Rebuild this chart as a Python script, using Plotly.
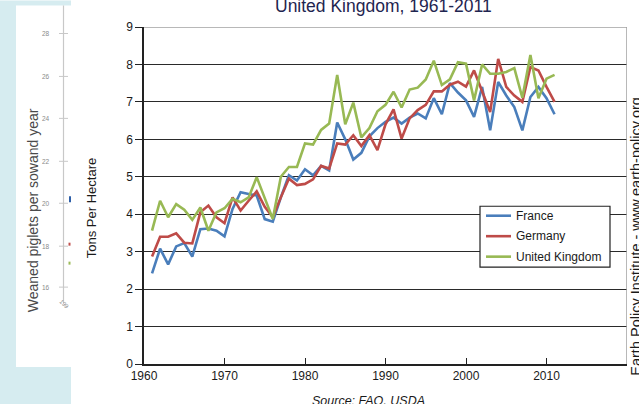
import plotly.graph_objects as go

years = [1961, 1962, 1963, 1964, 1965, 1966, 1967, 1968, 1969, 1970,
         1971, 1972, 1973, 1974, 1975, 1976, 1977, 1978, 1979, 1980,
         1981, 1982, 1983, 1984, 1985, 1986, 1987, 1988, 1989, 1990,
         1991, 1992, 1993, 1994, 1995, 1996, 1997, 1998, 1999, 2000,
         2001, 2002, 2003, 2004, 2005, 2006, 2007, 2008, 2009, 2010, 2011]

france = [2.42, 3.08, 2.66, 3.14, 3.23, 2.87, 3.60, 3.62, 3.56, 3.41,
          4.14, 4.59, 4.54, 4.50, 3.87, 3.80, 4.45, 5.04, 4.90, 5.20,
          5.04, 5.29, 5.17, 6.45, 6.00, 5.46, 5.64, 6.08, 6.30, 6.47,
          6.58, 6.42, 6.58, 6.69, 6.56, 7.10, 6.67, 7.50, 7.25, 7.04,
          6.60, 7.40, 6.24, 7.53, 7.17, 6.86, 6.24, 7.13, 7.40, 7.10, 6.67]

germany = [2.87, 3.40, 3.40, 3.49, 3.24, 3.22, 4.05, 4.23, 3.92, 3.76,
           4.45, 4.10, 4.36, 4.61, 4.20, 3.92, 4.45, 4.95, 4.78, 4.81,
           4.93, 5.29, 5.22, 5.89, 5.86, 6.11, 5.82, 6.11, 5.71, 6.40,
           6.80, 6.02, 6.56, 6.78, 6.92, 7.28, 7.28, 7.46, 7.54, 7.41,
           7.84, 7.31, 6.73, 8.15, 7.40, 7.17, 7.00, 7.93, 7.84, 7.40, 7.00]

uk = [3.56, 4.36, 3.92, 4.27, 4.12, 3.85, 4.18, 3.56, 4.05, 4.16,
      4.41, 4.32, 4.45, 4.99, 4.43, 3.87, 5.00, 5.26, 5.26, 5.89,
      5.86, 6.25, 6.42, 7.72, 6.40, 6.98, 6.05, 6.30, 6.75, 6.92,
      7.27, 6.85, 7.33, 7.38, 7.60, 8.10, 7.45, 7.60, 8.06, 8.02,
      7.04, 8.00, 7.75, 7.75, 7.80, 7.90, 7.11, 8.25, 7.10, 7.62, 7.72]

series_names = ["France", "Germany", "United Kingdom"]
series_colors = ["#4a7ebb", "#be4b48", "#98b954"]

x_ticks = [1960, 1970, 1980, 1990, 2000, 2010, 2020]
y_ticks = [0, 1, 2, 3, 4, 5, 6, 7, 8, 9]

left_ticks = ["28", "26", "24", "22", "20", "18", "16"]

W, H = 639, 404
L, R, T, B = 144, 12, 26.5, 40
PW = W - L - R
PH = H - T - B


def px(p):
    return (p - L) / PW


def py(p):
    return (H - B - p) / PH


FONT = "Liberation Sans"

fig = go.Figure()
for name, vals, col in zip(series_names, [france, germany, uk], series_colors):
    fig.add_trace(go.Scatter(x=years, y=vals, mode="lines", name=name,
                             line=dict(color=col, width=2.6), showlegend=False))

shapes = []
# left background (remnant of another chart)
shapes.append(dict(type="rect", xref="paper", yref="paper", x0=px(0), x1=px(71),
                   y0=py(404), y1=py(0), fillcolor="#d6ecf0", line=dict(width=0), layer="below"))
shapes.append(dict(type="rect", xref="paper", yref="paper", x0=px(16), x1=px(71),
                   y0=py(367), y1=py(5), fillcolor="white", line=dict(width=0), layer="below"))
shapes.append(dict(type="line", xref="paper", yref="paper", x0=px(63.5), x1=px(63.5),
                   y0=py(303), y1=py(5), line=dict(color="#c8c8c8", width=1.2)))
left_tick_y = [33, 76, 118, 161, 203, 246, 287]
for ty in left_tick_y:
    shapes.append(dict(type="line", xref="paper", yref="paper", x0=px(59), x1=px(68),
                       y0=py(ty), y1=py(ty), line=dict(color="#c8c8c8", width=1)))
# small coloured marks of the left chart
for (mx, my, mh, mc) in [(70, 199, 6, "#2e5fa8"), (69.5, 244, 3, "#c0504d"), (69.5, 263, 3, "#9bbb59")]:
    shapes.append(dict(type="rect", xref="paper", yref="paper", x0=px(mx - 1), x1=px(mx + 1),
                       y0=py(my + mh / 2), y1=py(my - mh / 2), fillcolor=mc, line=dict(width=0)))
# top border (gray) and right border (gray)
shapes.append(dict(type="line", xref="paper", yref="y", x0=0, x1=1, y0=9, y1=9,
                   line=dict(color="#a0a0a0", width=1.5), layer="above"))
shapes.append(dict(type="line", xref="x", yref="paper", x0=2020, x1=2020, y0=0, y1=1,
                   line=dict(color="#a0a0a0", width=1.5), layer="above"))

annotations = []

# legend box (drawn by hand to match the reference's compact box)
shapes.append(dict(type="rect", xref="paper", yref="paper", x0=px(480), x1=px(610),
                   y0=py(267), y1=py(206), fillcolor="white",
                   line=dict(color="#222222", width=1.2), layer="above"))
legend_y = [215.5, 236, 256.5]
for name, col, ly in zip(series_names, series_colors, legend_y):
    shapes.append(dict(type="line", xref="paper", yref="paper", x0=px(486), x1=px(511),
                       y0=py(ly), y1=py(ly), line=dict(color=col, width=2.6), layer="above"))
    annotations.append(dict(text=name, xref="paper", yref="paper", x=px(513.5), y=py(ly),
                            xanchor="left", yanchor="middle", showarrow=False,
                            font=dict(family=FONT, size=12, color="#1a1a1a")))

for lbl, ty in zip(left_ticks, left_tick_y):
    annotations.append(dict(text=lbl, xref="paper", yref="paper", x=px(52), y=py(ty),
                            xanchor="right", yanchor="middle", showarrow=False,
                            font=dict(family=FONT, size=6.5, color="#8a8a8a")))
annotations.append(dict(text="199", xref="paper", yref="paper", x=px(64), y=py(304),
                        xanchor="center", yanchor="middle", showarrow=False, textangle=45,
                        font=dict(family=FONT, size=6, color="#8a8a8a")))
annotations.append(dict(text="Weaned piglets per sowand year", xref="paper", yref="paper",
                        x=px(33), y=py(210), xanchor="center", yanchor="middle",
                        showarrow=False, textangle=-90,
                        font=dict(family=FONT, size=14, color="#4a4a4a")))
annotations.append(dict(text="Tons Per Hectare", xref="paper", yref="paper",
                        x=px(91), y=py(208), xanchor="center", yanchor="middle",
                        showarrow=False, textangle=-90,
                        font=dict(family=FONT, size=13, color="#1a1a1a")))
annotations.append(dict(text="United Kingdom, 1961-2011", xref="paper", yref="paper",
                        x=px(383), y=py(5), xanchor="center", yanchor="middle",
                        showarrow=False,
                        font=dict(family=FONT, size=17.5, color="#1f2550")))
annotations.append(dict(text="<i>Source: FAO, USDA</i>", xref="paper", yref="paper",
                        x=px(368), y=py(401), xanchor="center", yanchor="middle",
                        showarrow=False,
                        font=dict(family=FONT, size=12.5, color="#1a1a1a")))
annotations.append(dict(text="Earth Policy Institute - www.earth-policy.org", xref="paper",
                        yref="paper", x=px(636.5), y=py(236), xanchor="center",
                        yanchor="middle", showarrow=False, textangle=-90,
                        font=dict(family=FONT, size=14.5, color="#1a1a1a")))

fig.update_layout(
    width=W, height=H,
    margin=dict(l=L, r=R, t=T, b=B, pad=0),
    paper_bgcolor="white", plot_bgcolor="white",
    shapes=shapes, annotations=annotations,
    showlegend=False,
    xaxis=dict(range=[1960, 2020], tickvals=x_ticks, ticks="inside", ticklen=6,
               tickcolor="#222", showgrid=False, zeroline=False,
               showline=True, linecolor="#222", linewidth=1.5,
               tickfont=dict(family=FONT, size=12, color="#1a1a1a")),
    yaxis=dict(range=[0, 9], tickvals=y_ticks, ticks="outside", ticklen=7,
               tickcolor="#222", showgrid=True, gridcolor="#2a2a2a", gridwidth=1.3,
               zeroline=False, showline=True, linecolor="#222", linewidth=1.5,
               tickfont=dict(family=FONT, size=12, color="#1a1a1a")),
)

fig.write_html("out.html", config={"displayModeBar": False},
               post_script="document.body.style.margin='0px';"
                           "document.body.style.overflow='hidden';"
                           "document.documentElement.style.overflow='hidden';")
